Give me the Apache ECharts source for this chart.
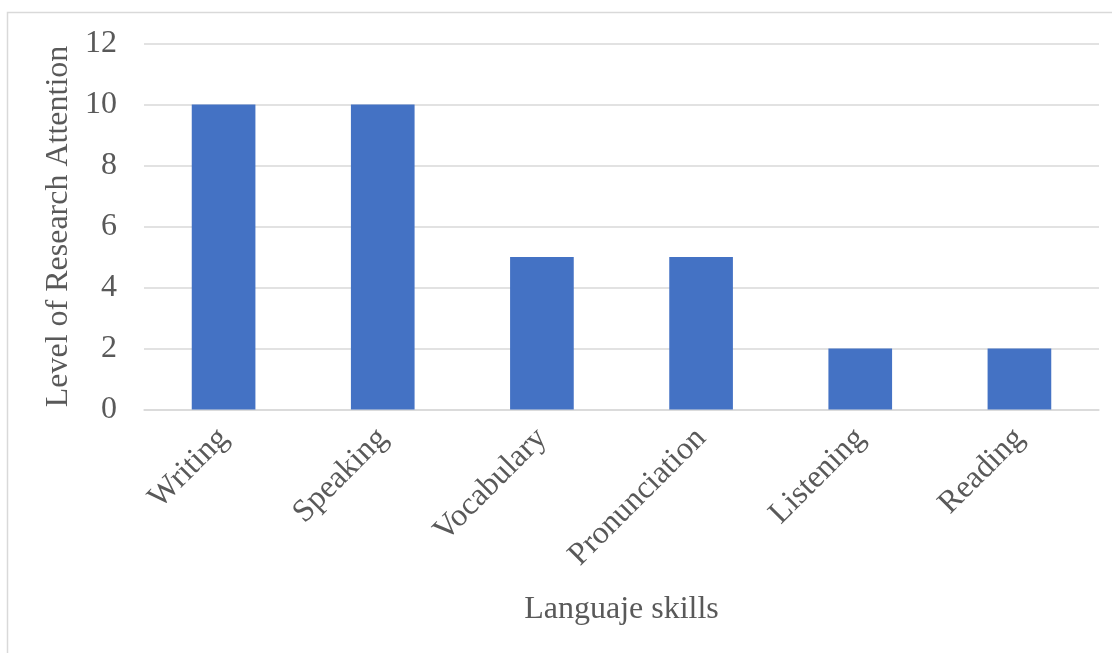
<!DOCTYPE html>
<html><head><meta charset="utf-8">
<script src="https://cdn.jsdelivr.net/npm/echarts@6/dist/echarts.min.js"></script>
<style>html,body{margin:0;padding:0;background:#fff}#c{width:1112px;height:653px}</style>
</head><body><div id="c"></div>
<script>
const categories = ['Writing','Speaking','Vocabulary','Pronunciation','Listening','Reading'];
const values = [10,10,5,5,2,2];
const yTicks = [0,2,4,6,8,10,12];
const xTitle = 'Languaje skills';
const yTitle = 'Level of Research Attention';

const chart = echarts.init(document.getElementById('c'));
const font = '"Liberation Serif", "Times New Roman", serif';
chart.setOption({
  animation:false,
  graphic:[{type:'rect',shape:{x:7.5,y:12.5,width:1120,height:660},style:{fill:'none',stroke:'#d9d9d9',lineWidth:1.5},silent:true,z:-1}],
  grid:{left:144,right:13,top:43.5,bottom:243.5},
  xAxis:{type:'category',data:categories,
    axisLine:{lineStyle:{color:'#d9d9d9',width:1.5}},axisTick:{show:false},
    axisLabel:{rotate:45,color:'#595959',fontFamily:font,fontSize:32,margin:24,interval:0},
    name:xTitle,nameLocation:'middle',nameGap:184,nameTextStyle:{color:'#595959',fontFamily:font,fontSize:32}},
  yAxis:{type:'value',min:yTicks[0],max:yTicks[yTicks.length-1],interval:2,
    axisLine:{show:false},axisTick:{show:false},
    splitLine:{lineStyle:{color:'#d9d9d9',width:1.5}},
    axisLabel:{color:'#595959',fontFamily:font,fontSize:32,margin:27},
    name:yTitle,nameLocation:'middle',nameGap:67,nameTextStyle:{color:'#595959',fontFamily:font,fontSize:32}},
  series:[{type:'bar',data:values,barWidth:'40%',itemStyle:{color:'#4472c4'}}]
});
</script></body></html>
